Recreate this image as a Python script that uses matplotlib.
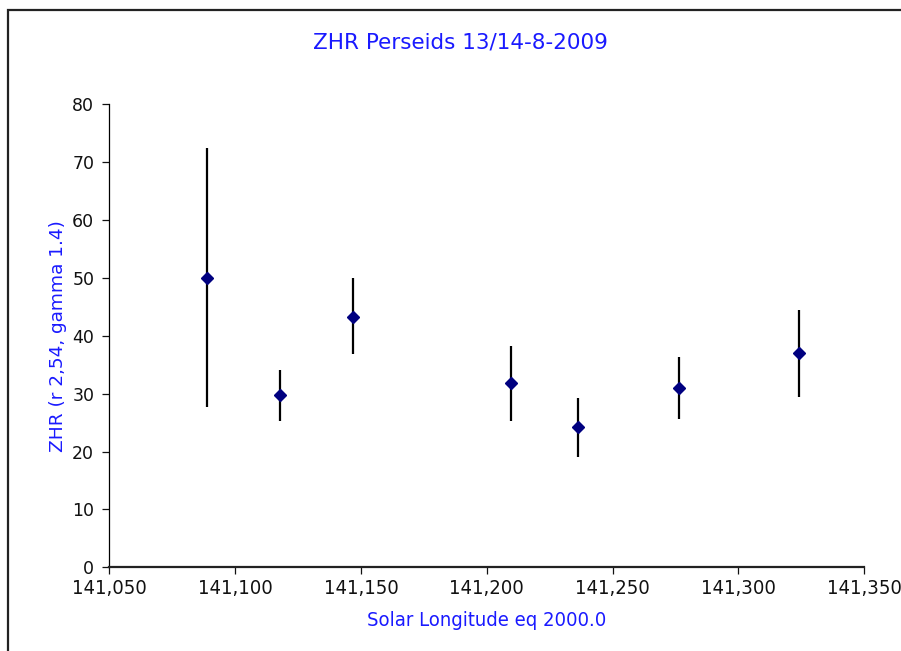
import matplotlib
matplotlib.use("Agg")
import matplotlib.pyplot as plt
from matplotlib.patches import Rectangle
from matplotlib.ticker import FuncFormatter, MultipleLocator

# Perseids ZHR data
sol_long = [141.0888, 141.1179, 141.1469, 141.2098, 141.2363, 141.2764, 141.3243]
zhr = [50.0, 29.8, 43.2, 31.8, 24.2, 30.9, 37.1]
zhr_high = [72.5, 34.1, 50.0, 38.3, 29.3, 36.3, 44.5]
zhr_low = [27.7, 25.2, 36.8, 25.3, 19.1, 25.6, 29.4]

err_low = [z - lo for z, lo in zip(zhr, zhr_low)]
err_high = [hi - z for z, hi in zip(zhr, zhr_high)]

fig = plt.figure(figsize=(9.01, 6.51), dpi=100)
ax = fig.add_axes([0.1215, 0.1286, 0.8375, 0.7112])

# outer frame (Excel chart area border, clipped at right/bottom)
fig.patches.append(Rectangle((8 / 901, -0.05), 1.1, 1 - 10 / 651 + 0.05,
                             transform=fig.transFigure, fill=False,
                             edgecolor='#222222', linewidth=1.6))

ax.errorbar(sol_long, zhr, yerr=[err_low, err_high], fmt='D',
            color='#000080', markersize=6.5, ecolor='black',
            elinewidth=1.6, capsize=0, zorder=3)

ax.set_xlim(141.05, 141.35)
ax.set_ylim(0, 80)
ax.xaxis.set_major_locator(MultipleLocator(0.05))
ax.yaxis.set_major_locator(MultipleLocator(10))
ax.xaxis.set_major_formatter(FuncFormatter(lambda v, p: f"{v:.3f}".replace('.', ',')))

for s in ['top', 'right']:
    ax.spines[s].set_visible(False)
ax.spines['left'].set_linewidth(0.9)
ax.spines['bottom'].set_linewidth(1.6)
ax.spines['bottom'].set_color('#222222')
ax.tick_params(direction='out', length=5, width=0.9, colors='#111111')
ax.tick_params(axis='y', labelsize=12.5, pad=6)
for lab in ax.get_xticklabels():
    lab.set_fontstretch('condensed')
    lab.set_fontsize(14.5)

fig.text(0.511, 0.935, 'ZHR Perseids 13/14-8-2009', color='#1a1aff',
         fontsize=15.5, ha='center', va='center')
ax.set_xlabel('Solar Longitude eq 2000.0', color='#1a1aff', fontsize=14.5,
              fontstretch='condensed', labelpad=9)
ax.set_ylabel('ZHR (r 2,54, gamma 1.4)', color='#1a1aff', fontsize=13.3, labelpad=4)

fig.savefig('out.png', dpi=100)
